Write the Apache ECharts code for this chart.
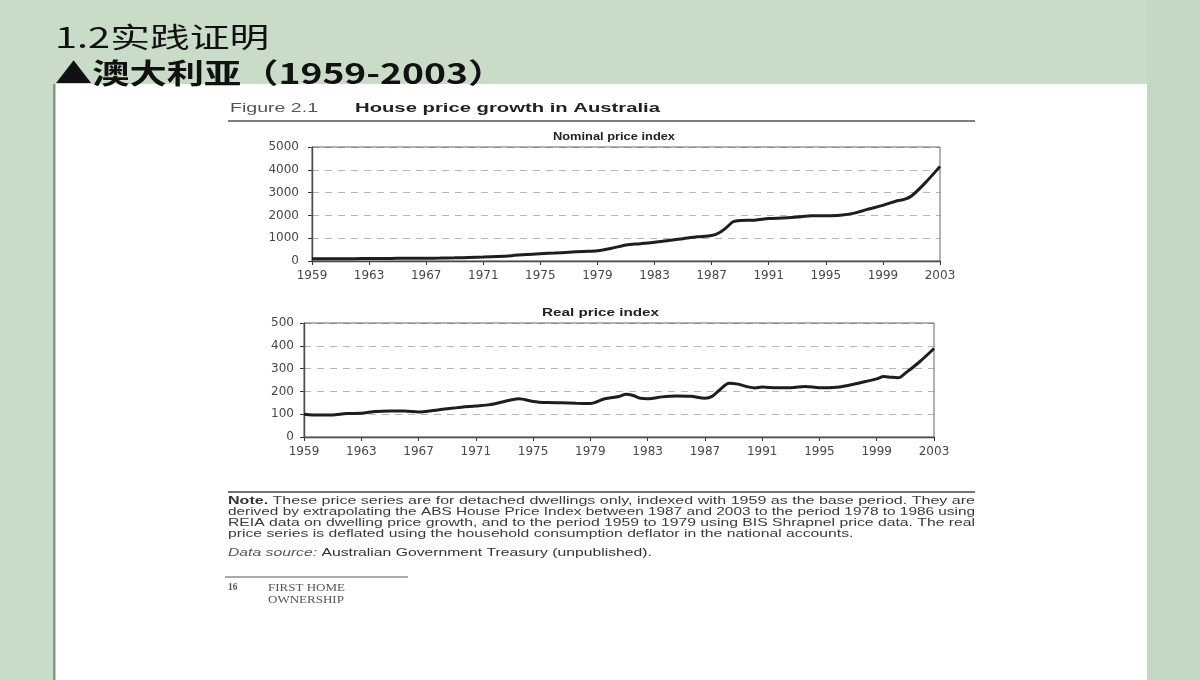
<!DOCTYPE html>
<html>
<head>
<meta charset="utf-8">
<script src="https://cdn.jsdelivr.net/npm/echarts@6/dist/echarts.min.js"></script>
<style>
html,body{margin:0;padding:0;background:#c9dcc8;}
#c{width:1200px;height:680px;}
</style>
</head>
<body>
<div id="c"></div>
<script>
// ---------- data ----------
const baseYear = 1959;
const yearTickLabels = [1959, 1963, 1967, 1971, 1975, 1979, 1983, 1987, 1991, 1995, 1999, 2003];
const nominalYTicks = [0, 1000, 2000, 3000, 4000, 5000];
const realYTicks = [0, 100, 200, 300, 400, 500];

const nominalYears = [1959, 1960, 1961, 1962, 1963, 1964, 1965, 1966, 1967, 1968, 1969, 1970, 1971, 1972, 1973, 1974, 1975, 1976, 1977, 1978, 1979, 1980, 1981, 1982, 1983, 1984, 1985, 1986, 1987, 1987.5, 1988, 1988.5, 1989, 1990, 1991, 1992, 1993, 1994, 1995, 1996, 1997, 1998, 1999, 2000, 2000.5, 2001, 2002, 2003];
const nominalValues = [100, 98, 100, 104, 106, 112, 116, 118, 120, 128, 140, 155, 170, 195, 235, 290, 320, 350, 385, 420, 450, 560, 700, 760, 820, 900, 980, 1060, 1120, 1230, 1450, 1720, 1780, 1790, 1860, 1890, 1930, 1990, 1990, 2010, 2100, 2280, 2440, 2640, 2700, 2850, 3450, 4150];

const realYears = [1959, 1960, 1961, 1962, 1963, 1964, 1965, 1966, 1967, 1968, 1969, 1970, 1971, 1972, 1973, 1974, 1975, 1976, 1977, 1978, 1979, 1980, 1981, 1981.5, 1982, 1982.5, 1983, 1984, 1985, 1986, 1987, 1987.5, 1988, 1988.7, 1989.3, 1990, 1990.5, 1991, 1992, 1993, 1994, 1995, 1996, 1997, 1998, 1999, 1999.5, 2000, 2000.5, 2001, 2002, 2003];
const realValues = [100, 96, 97, 103, 104, 112, 114, 114, 110, 116, 124, 131, 136, 142, 156, 168, 156, 151, 150, 148, 147, 168, 178, 188, 182, 170, 168, 176, 180, 179, 170, 178, 205, 236, 232, 220, 215, 219, 216, 216, 222, 216, 217, 226, 240, 255, 265, 262, 260, 280, 330, 388];

// ---------- helpers ----------
const toPairs = (ys, vs) => ys.map((y, i) => [y - baseYear, vs[i]]);
const yearSpan = yearTickLabels[yearTickLabels.length - 1] - baseYear;

const mc = document.createElement('canvas').getContext('2d');
function textW(str, font) { mc.font = font; return mc.measureText(str).width; }

const chart = echarts.init(document.getElementById('c'));

const axisLabelStyle = { fontFamily: 'DejaVu Sans', fontSize: 12, color: '#474747' };

function makeX(gi) {
  return {
    type: 'value', gridIndex: gi, min: 0, max: yearSpan, interval: 4,
    axisLine: { show: true, lineStyle: { color: '#333', width: 1.4 } },
    axisTick: { show: true, length: 4, lineStyle: { color: '#333' } },
    splitLine: { show: false },
    axisLabel: Object.assign({ margin: 9, formatter: v => String(v + baseYear) }, axisLabelStyle)
  };
}
function makeY(gi, ticks, margin) {
  return {
    type: 'value', gridIndex: gi, min: ticks[0], max: ticks[ticks.length - 1],
    interval: ticks[1] - ticks[0],
    axisLine: { show: true, lineStyle: { color: '#333', width: 1.4 } },
    axisTick: { show: true, length: 4, lineStyle: { color: '#333' } },
    splitLine: { show: true, lineStyle: { color: '#b5b5b5', type: [7, 6], width: 1 } },
    axisLabel: Object.assign({ margin: margin, formatter: v => String(v) }, axisLabelStyle)
  };
}

// note lines
const noteFont = '11px "Liberation Sans"';
const noteBoldFont = 'bold 11px "Liberation Sans"';
const noteLines = [
  'These price series are for detached dwellings only, indexed with 1959 as the base period. They are',
  'derived by extrapolating the ABS House Price Index between 1987 and 2003 to the period 1978 to 1986 using',
  'REIA data on dwelling price growth, and to the period 1959 to 1979 using BIS Shrapnel price data. The real',
  'price series is deflated using the household consumption deflator in the national accounts.'
];
const noteLeft = 228, noteRight = 975, noteW = noteRight - noteLeft;
const noteY = [501, 512, 523, 534];
const graphics = [];

// page
graphics.push({ type: 'rect', shape: { x: 1147, y: 0, width: 53, height: 680 }, style: { fill: '#c3d8c3' }, silent: true });
graphics.push({ type: 'rect', shape: { x: 55, y: 84, width: 1092, height: 600 }, style: { fill: '#ffffff' }, silent: true });
graphics.push({ type: 'rect', shape: { x: 53, y: 84, width: 2.5, height: 600 }, style: { fill: '#8c948c' }, silent: true });

// slide titles
graphics.push({ type: 'text', x: 55, y: 37, scaleX: 1.42, style: { text: '1.2实践证明', font: '28px "Noto Sans CJK SC"', fill: '#111', textVerticalAlign: 'middle' } });
graphics.push({ type: 'text', x: 55, y: 73, scaleX: 1.33, style: { text: '▲澳大利亚（1959-2003）', font: 'bold 28px "Noto Sans CJK SC"', fill: '#111', textVerticalAlign: 'middle' } });

// figure header
const fig = 'Figure 2.1';
graphics.push({ type: 'text', x: 230, y: 108, scaleX: 88 / textW(fig, '13px "Liberation Sans"'), style: { text: fig, font: '13px "Liberation Sans"', fill: '#555', textVerticalAlign: 'middle' } });
const hdr = 'House price growth in Australia';
graphics.push({ type: 'text', x: 355, y: 108, scaleX: 305 / textW(hdr, 'bold 13.5px "Liberation Sans"'), style: { text: hdr, font: 'bold 13.5px "Liberation Sans"', fill: '#222', textVerticalAlign: 'middle' } });
graphics.push({ type: 'line', shape: { x1: 228, y1: 121, x2: 975, y2: 121 }, style: { stroke: '#555', lineWidth: 1.5 } });

// chart titles
const t1 = 'Nominal price index', t2 = 'Real price index';
const tf = 'bold 10.5px "Liberation Sans"';
graphics.push({ type: 'text', x: 553, y: 137, scaleX: 122 / textW(t1, tf), style: { text: t1, font: tf, fill: '#222', textVerticalAlign: 'middle' } });
graphics.push({ type: 'text', x: 542, y: 313, scaleX: 117 / textW(t2, tf), style: { text: t2, font: tf, fill: '#222', textVerticalAlign: 'middle' } });

// note
graphics.push({ type: 'line', shape: { x1: 228, y1: 492, x2: 975, y2: 492 }, style: { stroke: '#444', lineWidth: 1.5 } });
let scales = [];
noteLines.forEach((ln, i) => {
  const bold = i === 0 ? 'Note. ' : '';
  const w = (bold ? textW(bold, noteBoldFont) : 0) + textW(ln, noteFont);
  scales.push(noteW / w);
});
const avgScale = (scales[0] + scales[1] + scales[2]) / 3;
scales[3] = avgScale;
noteLines.forEach((ln, i) => {
  const txt = i === 0 ? '{b|Note.} ' + ln : ln;
  graphics.push({
    type: 'text', x: noteLeft, y: noteY[i], scaleX: scales[i],
    style: {
      text: txt, font: noteFont, fill: '#3a3a3a', textVerticalAlign: 'middle',
      rich: { b: { font: noteBoldFont, fill: '#333' } }
    }
  });
});
graphics.push({
  type: 'text', x: noteLeft, y: 553, scaleX: avgScale,
  style: {
    text: '{i|Data source:} Australian Government Treasury (unpublished).', font: noteFont, fill: '#333', textVerticalAlign: 'middle',
    rich: { i: { font: 'italic 11px "Liberation Sans"', fill: '#555' } }
  }
});

// footer
graphics.push({ type: 'line', shape: { x1: 225, y1: 577, x2: 408, y2: 577 }, style: { stroke: '#555', lineWidth: 1.2 } });
graphics.push({ type: 'text', x: 228, y: 588, style: { text: '16', font: 'bold 9.5px "Liberation Serif"', fill: '#555', textVerticalAlign: 'middle' } });
graphics.push({ type: 'text', x: 268, y: 588, scaleX: 77 / textW('FIRST HOME', '9.5px "Liberation Serif"'), style: { text: 'FIRST HOME', font: '9.5px "Liberation Serif"', fill: '#555', textVerticalAlign: 'middle' } });
graphics.push({ type: 'text', x: 268, y: 600, scaleX: 77 / textW('FIRST HOME', '9.5px "Liberation Serif"'), style: { text: 'OWNERSHIP', font: '9.5px "Liberation Serif"', fill: '#555', textVerticalAlign: 'middle' } });

const option = {
  animation: false,
  backgroundColor: 'transparent',
  graphic: { elements: graphics },
  grid: [
    { left: 312, top: 147, width: 628, height: 114, show: true, borderColor: '#666', borderWidth: 1, backgroundColor: 'transparent', z: 5 },
    { left: 304, top: 323, width: 630, height: 114, show: true, borderColor: '#666', borderWidth: 1, backgroundColor: 'transparent', z: 5 }
  ],
  xAxis: [makeX(0), makeX(1)],
  yAxis: [makeY(0, nominalYTicks, 13), makeY(1, realYTicks, 10)],
  series: [
    {
      name: 'Nominal price index', type: 'line', xAxisIndex: 0, yAxisIndex: 0,
      data: toPairs(nominalYears, nominalValues), showSymbol: false, smooth: 0.3,
      lineStyle: { color: '#1e1e1e', width: 3 }, z: 10
    },
    {
      name: 'Real price index', type: 'line', xAxisIndex: 1, yAxisIndex: 1,
      data: toPairs(realYears, realValues), showSymbol: false, smooth: 0.3,
      lineStyle: { color: '#1e1e1e', width: 3 }, z: 10
    }
  ]
};
chart.setOption(option);
</script>
</body>
</html>
